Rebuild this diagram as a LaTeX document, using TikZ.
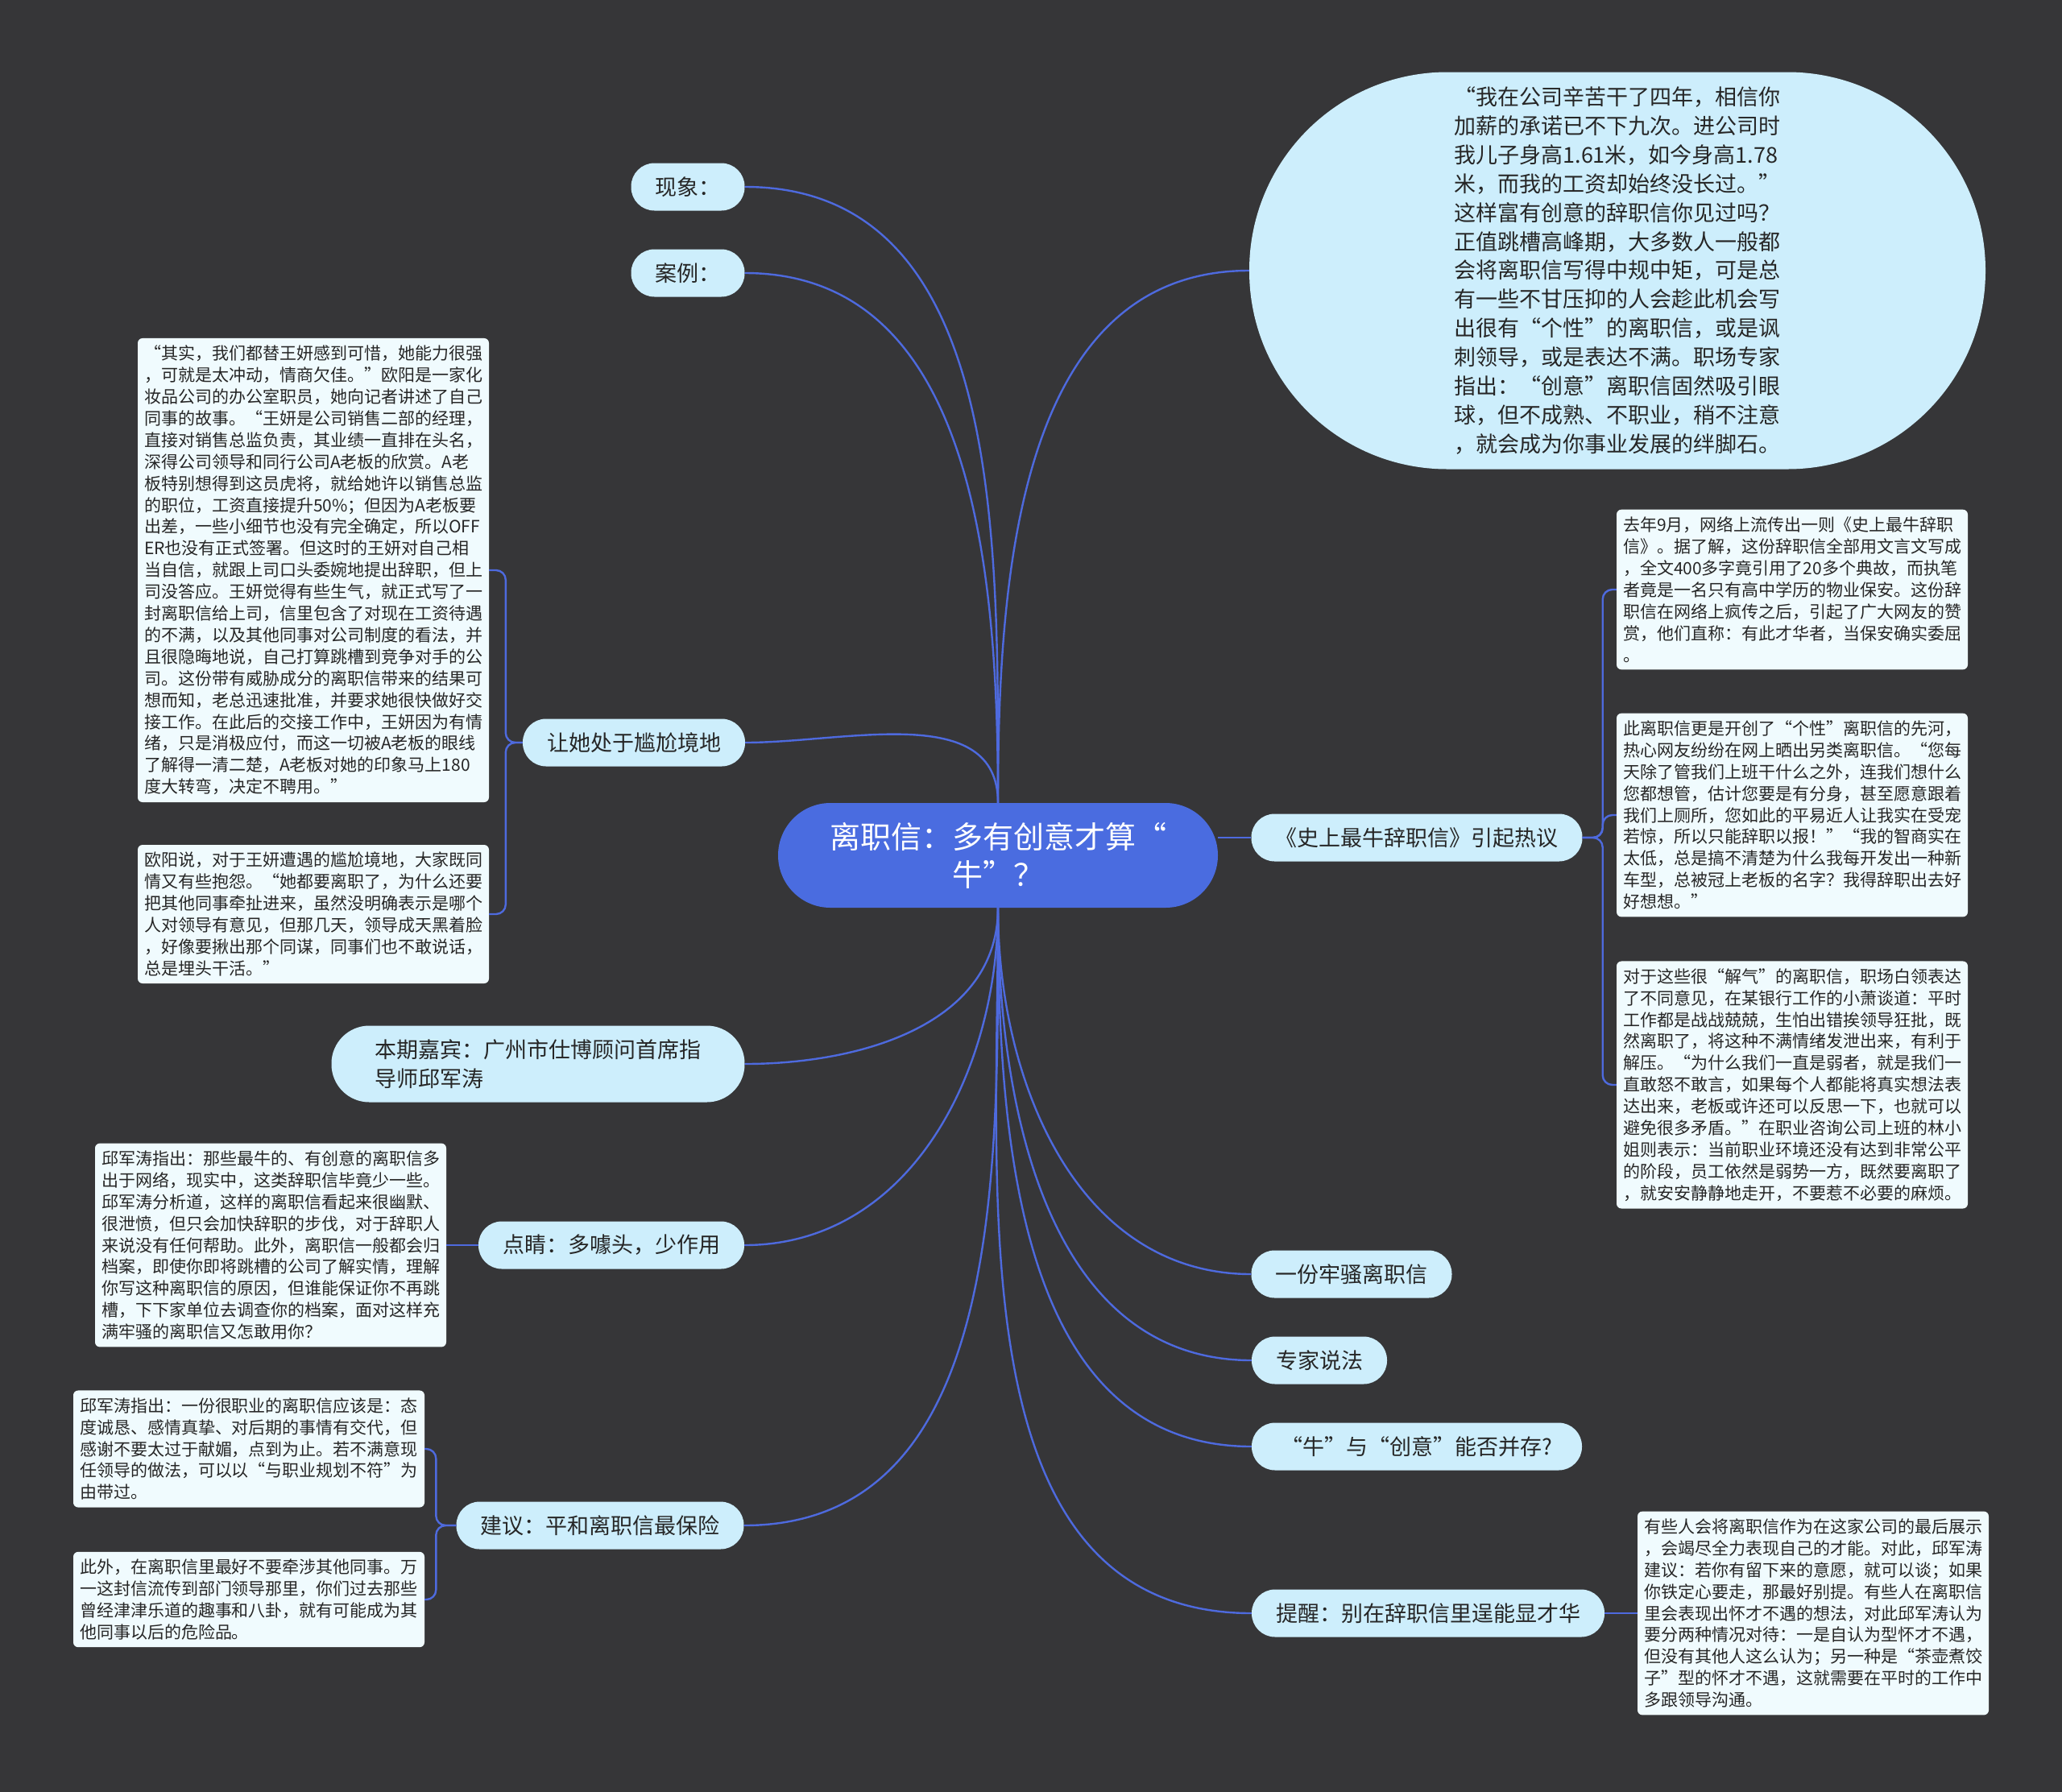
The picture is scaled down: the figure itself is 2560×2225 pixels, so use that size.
\documentclass[tikz,border=0pt]{standalone}
\usepackage{fontspec}
\setmainfont{Noto Sans CJK SC}
\definecolor{boardgray}{RGB}{54,54,56}
\definecolor{topicblue}{RGB}{74,108,224}
\definecolor{linkblue}{RGB}{78,106,222}
\definecolor{branchsky}{RGB}{205,238,252}
\definecolor{notewhite}{RGB}{240,251,254}
\definecolor{inkdark}{RGB}{38,38,38}

\begin{document}
\begin{tikzpicture}[x=1pt,y=-1pt,
		topic/.style={fill=topicblue, rounded corners=65pt, minimum width=546pt,
			minimum height=130pt, align=center, text=white,
			font=\fontsize{38}{47}\selectfont},
		branch/.style={fill=branchsky, rounded corners=29pt, minimum height=59pt,
			inner xsep=30pt, text=inkdark, font=\fontsize{27}{36}\selectfont},
		note/.style={fill=notewhite, rounded corners=6pt, inner xsep=8pt, inner ysep=9pt,
			text width=420pt, align=left, text=inkdark,
			font=\fontsize{21}{26.9}\selectfont},
		link/.style={draw=linkblue, line width=2.4pt}
	]
		\fill[boardgray] (0,0) rectangle (2560,2225);

		\node[topic] (root) at (1239,1062) {离职信：多有创意才算“\\牛”？};

		\node[branch] (xianxiang) at (854,232) {现象：};
		\node[branch] (anli) at (854,339) {案例：};
		\node[branch, minimum width=914pt, minimum height=493pt, rounded corners=246pt,
			text width=405pt, align=left, font=\fontsize{27}{35.9}\selectfont] (intro) at (2008,336) {“我在公司辛苦干了四年，相信你\\
加薪的承诺已不下九次。进公司时\\
我儿子身高1.61米，如今身高1.78\\
米，而我的工资却始终没长过。”\\
这样富有创意的辞职信你见过吗？\\
正值跳槽高峰期，大多数人一般都\\
会将离职信写得中规中矩，可是总\\
有一些不甘压抑的人会趁此机会写\\
出很有“个性”的离职信，或是讽\\
刺领导，或是表达不满。职场专家\\
指出：“创意”离职信固然吸引眼\\
球，但不成熟、不职业，稍不注意\\
，就会成为你事业发展的绊脚石。};

		\node[branch] (gangga) at (787,922) {让她处于尴尬境地};
		\node[note] (wangyan) at (389,708) {“其实，我们都替王妍感到可惜，她能力很强\\
，可就是太冲动，情商欠佳。”欧阳是一家化\\
妆品公司的办公室职员，她向记者讲述了自己\\
同事的故事。“王妍是公司销售二部的经理，\\
直接对销售总监负责，其业绩一直排在头名，\\
深得公司领导和同行公司A老板的欣赏。A老\\
板特别想得到这员虎将，就给她许以销售总监\\
的职位，工资直接提升50\%；但因为A老板要\\
出差，一些小细节也没有完全确定，所以OFF\\
ER也没有正式签署。但这时的王妍对自己相\\
当自信，就跟上司口头委婉地提出辞职，但上\\
司没答应。王妍觉得有些生气，就正式写了一\\
封离职信给上司，信里包含了对现在工资待遇\\
的不满，以及其他同事对公司制度的看法，并\\
且很隐晦地说，自己打算跳槽到竞争对手的公\\
司。这份带有威胁成分的离职信带来的结果可\\
想而知，老总迅速批准，并要求她很快做好交\\
接工作。在此后的交接工作中，王妍因为有情\\
绪，只是消极应付，而这一切被A老板的眼线\\
了解得一清二楚，A老板对她的印象马上180\\
度大转弯，决定不聘用。”};
		\node[note] (ouyang) at (389,1135) {欧阳说，对于王妍遭遇的尴尬境地，大家既同\\
情又有些抱怨。“她都要离职了，为什么还要\\
把其他同事牵扯进来，虽然没明确表示是哪个\\
人对领导有意见，但那几天，领导成天黑着脸\\
，好像要揪出那个同谋，同事们也不敢说话，\\
总是埋头干活。”};

		\node[branch, minimum width=513pt, minimum height=95pt, rounded corners=47pt,
			align=left] (guest) at (668,1321) {本期嘉宾：广州市仕博顾问首席指\\导师邱军涛};

		\node[branch] (niuxin) at (1759,1040) {《史上最牛辞职信》引起热议};
		\node[note] (baoan) at (2225,732) {去年9月，网络上流传出一则《史上最牛辞职\\
信》。据了解，这份辞职信全部用文言文写成\\
，全文400多字竟引用了20多个典故，而执笔\\
者竟是一名只有高中学历的物业保安。这份辞\\
职信在网络上疯传之后，引起了广大网友的赞\\
赏，他们直称：有此才华者，当保安确实委屈\\
。};
		\node[note] (gexing) at (2225,1012) {此离职信更是开创了“个性”离职信的先河，\\
热心网友纷纷在网上晒出另类离职信。“您每\\
天除了管我们上班干什么之外，连我们想什么\\
您都想管，估计您要是有分身，甚至愿意跟着\\
我们上厕所，您如此的平易近人让我实在受宠\\
若惊，所以只能辞职以报！”“我的智商实在\\
太低，总是搞不清楚为什么我每开发出一种新\\
车型，总被冠上老板的名字？我得辞职出去好\\
好想想。”};
		\node[note] (jieqi) at (2225,1347) {对于这些很“解气”的离职信，职场白领表达\\
了不同意见，在某银行工作的小萧谈道：平时\\
工作都是战战兢兢，生怕出错挨领导狂批，既\\
然离职了，将这种不满情绪发泄出来，有利于\\
解压。“为什么我们一直是弱者，就是我们一\\
直敢怒不敢言，如果每个人都能将真实想法表\\
达出来，老板或许还可以反思一下，也就可以\\
避免很多矛盾。”在职业咨询公司上班的林小\\
姐则表示：当前职业环境还没有达到非常公平\\
的阶段，员工依然是弱势一方，既然要离职了\\
，就安安静静地走开，不要惹不必要的麻烦。};

		\node[branch] (dianjing) at (759,1546) {点睛：多噱头，少作用};
		\node[note] (fenxi) at (336,1546) {邱军涛指出：那些最牛的、有创意的离职信多\\
出于网络，现实中，这类辞职信毕竟少一些。\\
邱军涛分析道，这样的离职信看起来很幽默、\\
很泄愤，但只会加快辞职的步伐，对于辞职人\\
来说没有任何帮助。此外，离职信一般都会归\\
档案，即使你即将跳槽的公司了解实情，理解\\
你写这种离职信的原因，但谁能保证你不再跳\\
槽，下下家单位去调查你的档案，面对这样充\\
满牢骚的离职信又怎敢用你？};

		\node[branch] (jianyi) at (745,1894) {建议：平和离职信最保险};
		\node[note] (taidu) at (309,1799) {邱军涛指出：一份很职业的离职信应该是：态\\
度诚恳、感情真挚、对后期的事情有交代，但\\
感谢不要太过于献媚，点到为止。若不满意现\\
任领导的做法，可以以“与职业规划不符”为\\
由带过。};
		\node[note] (tongshi) at (309,1986) {此外，在离职信里最好不要牵涉其他同事。万\\
一这封信流传到部门领导那里，你们过去那些\\
曾经津津乐道的趣事和八卦，就有可能成为其\\
他同事以后的危险品。};

		\node[branch] (laosao) at (1678,1582) {一份牢骚离职信};
		\node[branch] (zhuanjia) at (1638,1689) {专家说法};
		\node[branch, minimum width=410pt] (bingcun) at (1759,1796) {“牛”与“创意”能否并存?};
		\node[branch] (tixing) at (1773,2003) {提醒：别在辞职信里逞能显才华};
		\node[note] (huaicai) at (2251,2003) {有些人会将离职信作为在这家公司的最后展示\\
，会竭尽全力表现自己的才能。对此，邱军涛\\
建议：若你有留下来的意愿，就可以谈；如果\\
你铁定心要走，那最好别提。有些人在离职信\\
里会表现出怀才不遇的想法，对此邱军涛认为\\
要分两种情况对待：一是自认为型怀才不遇，\\
但没有其他人这么认为；另一种是“茶壶煮饺\\
子”型的怀才不遇，这就需要在平时的工作中\\
多跟领导沟通。};

		% branches from the root
		\draw[link] (root.north) to[out=90,in=0] (xianxiang.east);
		\draw[link] (root.north) to[out=90,in=0] (anli.east);
		\draw[link] (root.north) to[out=90,in=0] (gangga.east);
		\draw[link] (root.north) to[out=90,in=180] (intro.west);
		\draw[link] (niuxin.west) -- (niuxin.west -| root.east);
		\draw[link] (root.south) to[out=-90,in=0] (guest.east);
		\draw[link] (root.south) to[out=-90,in=0] (dianjing.east);
		\draw[link] (root.south) to[out=-90,in=0] (jianyi.east);
		\draw[link] (root.south) to[out=-90,in=180] (laosao.west);
		\draw[link] (root.south) to[out=-90,in=180] (zhuanjia.west);
		\draw[link] (root.south) to[out=-90,in=180] (bingcun.west);
		\draw[link] (root.south) to[out=-90,in=180] (tixing.west);

		% notes
		\draw[link, rounded corners=12pt] (gangga.west) -- ++(-21,0) |- (wangyan.east);
		\draw[link, rounded corners=12pt] (gangga.west) -- ++(-21,0) |- (ouyang.east);
		\draw[link, rounded corners=12pt] (niuxin.east) -- ++(25,0) |- (baoan.west);
		\draw[link, rounded corners=12pt] (niuxin.east) -- ++(25,0) |- (gexing.west);
		\draw[link, rounded corners=12pt] (niuxin.east) -- ++(25,0) |- (jieqi.west);
		\draw[link] (dianjing.west) -- (fenxi.east);
		\draw[link, rounded corners=12pt] (jianyi.west) -- ++(-25,0) |- (taidu.east);
		\draw[link, rounded corners=12pt] (jianyi.west) -- ++(-25,0) |- (tongshi.east);
		\draw[link] (tixing.east) -- (huaicai.west);
	\end{tikzpicture}
\end{document}
